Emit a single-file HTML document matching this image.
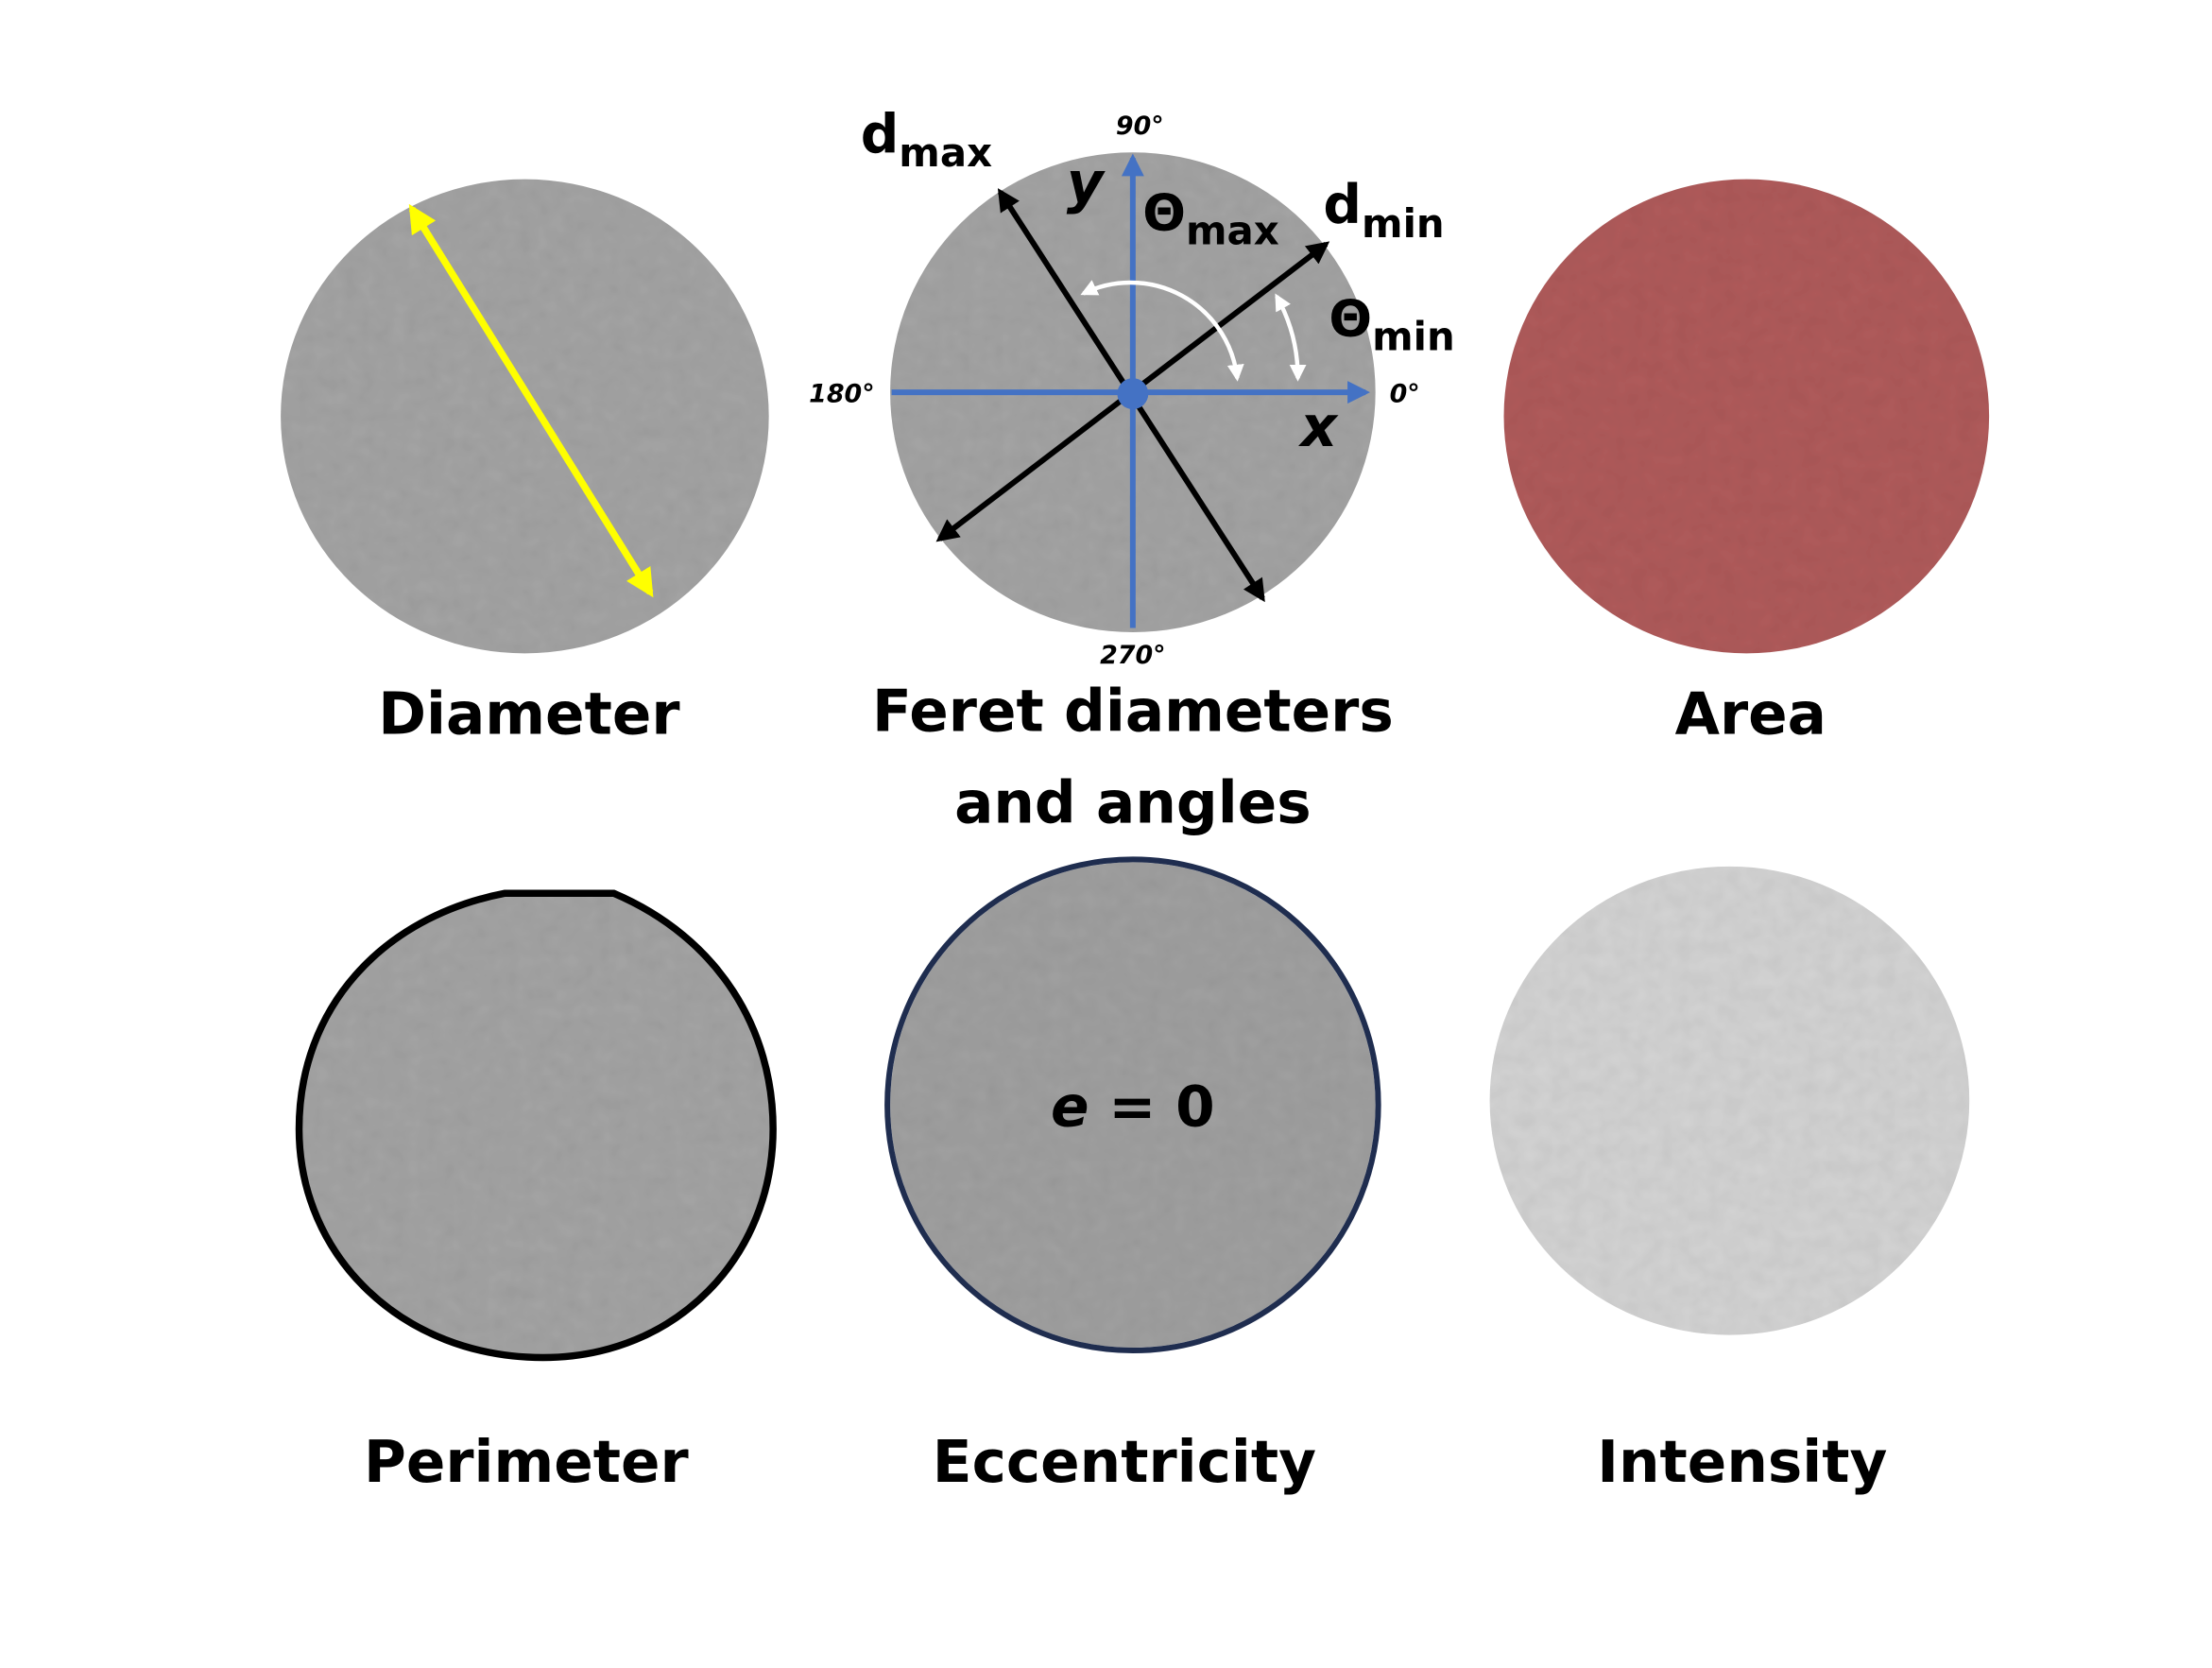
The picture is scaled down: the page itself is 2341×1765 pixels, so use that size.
<!DOCTYPE html>
<html><head><meta charset="utf-8"><style>
html,body{margin:0;padding:0;background:#fff;}
svg{display:block;}
text{font-family:"DejaVu Sans","Liberation Sans",sans-serif;font-weight:bold;}
</style></head><body>
<svg width="2341" height="1765" viewBox="0 0 1568 1182" preserveAspectRatio="none" xmlns="http://www.w3.org/2000/svg">
<defs>
<filter id="tex" x="0" y="0" width="100%" height="100%">
<feTurbulence type="fractalNoise" baseFrequency="0.09" numOctaves="2" seed="3" result="n"/>
<feColorMatrix in="n" type="saturate" values="0" result="g"/>
<feComponentTransfer in="g" result="g2"><feFuncA type="linear" slope="0" intercept="0.18"/></feComponentTransfer>
<feComposite in="g2" in2="SourceGraphic" operator="in" result="t"/>
<feBlend in="t" in2="SourceGraphic" mode="multiply"/>
</filter>
<marker id="ay" viewBox="0 0 10 10" refX="8" refY="5" markerWidth="4" markerHeight="4" orient="auto-start-reverse"><path d="M0,0L10,5L0,10z" fill="#ffff00"/></marker>
<marker id="ak" viewBox="0 0 10 10" refX="8" refY="5" markerWidth="4" markerHeight="4" orient="auto-start-reverse"><path d="M0,0L10,5L0,10z" fill="#000"/></marker>
<marker id="ab" viewBox="0 0 10 10" refX="8" refY="5" markerWidth="4" markerHeight="4" orient="auto"><path d="M0,0L10,5L0,10z" fill="#4472c4"/></marker>
<marker id="aw" viewBox="0 0 10 10" refX="8" refY="5" markerWidth="4" markerHeight="4" orient="auto-start-reverse"><path d="M0,0L10,5L0,10z" fill="#fff"/></marker>
</defs>

<g>
<ellipse cx="372" cy="295" rx="173" ry="168" fill="#a6a6a6" filter="url(#tex)"/>
<line x1="292" y1="148" x2="461" y2="420" stroke="#ffff00" stroke-width="5" marker-start="url(#ay)" marker-end="url(#ay)"/>
<text x="375" y="520" font-size="41" text-anchor="middle">Diameter</text>
</g>

<g>
<ellipse cx="803" cy="278" rx="172" ry="170" fill="#a6a6a6" filter="url(#tex)"/>
<line x1="632" y1="278" x2="968" y2="278" stroke="#4472c4" stroke-width="4" marker-end="url(#ab)"/>
<line x1="803" y1="445" x2="803" y2="112" stroke="#4472c4" stroke-width="4" marker-end="url(#ab)"/>
<line x1="709" y1="136" x2="895" y2="424" stroke="#000" stroke-width="4" marker-start="url(#ak)" marker-end="url(#ak)"/>
<line x1="940" y1="173" x2="666" y2="382" stroke="#000" stroke-width="4" marker-start="url(#ak)" marker-end="url(#ak)"/>
<circle cx="803" cy="279" r="11" fill="#4472c4"/>
<path d="M877,268 A76,76 0 0 0 768,208" fill="none" stroke="#fff" stroke-width="3" marker-start="url(#aw)" marker-end="url(#aw)"/>
<path d="M920,268 A118,118 0 0 0 905,210" fill="none" stroke="#fff" stroke-width="3" marker-start="url(#aw)" marker-end="url(#aw)"/>
<text x="610" y="108" font-size="38">d<tspan font-size="28" dy="10">max</tspan></text>
<text x="938" y="158" font-size="38">d<tspan font-size="28" dy="10">min</tspan></text>
<text x="810" y="163" font-size="36">Θ<tspan font-size="28" dy="10">max</tspan></text>
<text x="942" y="238" font-size="36">Θ<tspan font-size="28" dy="10">min</tspan></text>
<text x="756" y="143" font-size="40" font-style="italic">y</text>
<text x="922" y="316" font-size="40" font-style="italic">x</text>
<text x="808" y="95" font-size="18" font-style="italic" text-anchor="middle">90°</text>
<text x="985" y="285" font-size="18" font-style="italic">0°</text>
<text x="620" y="285" font-size="18" font-style="italic" text-anchor="end">180°</text>
<text x="803" y="470" font-size="18" font-style="italic" text-anchor="middle">270°</text>
<text x="803" y="518" font-size="41" text-anchor="middle">Feret diameters</text>
<text x="803" y="583" font-size="41" text-anchor="middle">and angles</text>
</g>

<g>
<ellipse cx="1238" cy="295" rx="172" ry="168" fill="#b25c5c" filter="url(#tex)"/>
<text x="1241" y="520" font-size="41" text-anchor="middle">Area</text>
</g>

<g>
<path d="M358,633 L435,633 C510,665 548,730 548,800 C548,890 480,962 385,962 C285,962 212,890 212,800 C212,715 270,650 358,633 Z" fill="#a6a6a6" filter="url(#tex)"/>
<path d="M358,633 L435,633 C510,665 548,730 548,800 C548,890 480,962 385,962 C285,962 212,890 212,800 C212,715 270,650 358,633 Z" fill="none" stroke="#000" stroke-width="5"/>
<text x="373" y="1050" font-size="41" text-anchor="middle">Perimeter</text>
</g>

<g>
<ellipse cx="803" cy="783" rx="172" ry="172" fill="#a2a2a2" filter="url(#tex)"/>
<circle cx="803" cy="783" r="174" fill="none" stroke="#1f2d4f" stroke-width="4"/>
<text x="803" y="798" font-size="40" text-anchor="middle"><tspan font-style="italic">e</tspan> = 0</text>
<text x="797" y="1050" font-size="41" text-anchor="middle">Eccentricity</text>
</g>

<g>
<ellipse cx="1226" cy="780" rx="170" ry="166" fill="#d6d6d6" filter="url(#tex)"/>
<text x="1235" y="1050" font-size="41" text-anchor="middle">Intensity</text>
</g>
</svg>
</body></html>
